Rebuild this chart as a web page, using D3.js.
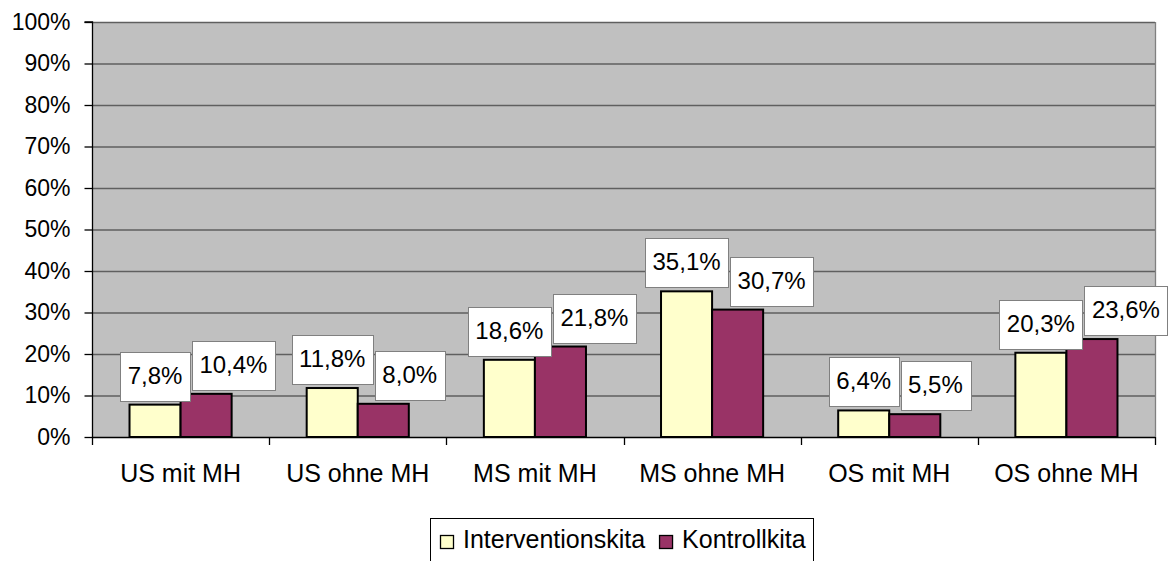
<!DOCTYPE html>
<html>
<head>
<meta charset="utf-8">
<script src="https://cdn.jsdelivr.net/npm/d3@7"></script>
<style>
  body { margin: 0; background: #fff; }
  text { font-family: "Liberation Sans", Arial, sans-serif; fill: #000; }
</style>
</head>
<body>
<svg id="chart" width="1173" height="561"></svg>
<script>
var categories = ['US mit MH', 'US ohne MH', 'MS mit MH', 'MS ohne MH', 'OS mit MH', 'OS ohne MH'];
var seriesNames = ['Interventionskita', 'Kontrollkita'];
var intervention = [7.8, 11.8, 18.6, 35.1, 6.4, 20.3];
var kontroll = [10.4, 8.0, 21.8, 30.7, 5.5, 23.6];
var yTicks = [0, 10, 20, 30, 40, 50, 60, 70, 80, 90, 100];
var colors = ['#FFFFCC', '#993366'];

var svg = d3.select('#chart');
var plot = { left: 92, right: 1155, top: 22, bottom: 437 };

var de = d3.formatLocale({ decimal: ',', thousands: '.', grouping: [3], currency: ['', ' €'] });
var fmt = de.format('.1f');

var x0 = d3.scaleBand().domain(categories).range([plot.left, plot.right]).padding(0);
var x1 = d3.scaleBand().domain(seriesNames).range([0, x0.bandwidth()])
  .paddingInner(0).paddingOuter(0.735);
var y = d3.scaleLinear().domain([0, 100]).range([plot.bottom, plot.top]);

// plot background
svg.append('rect')
  .attr('x', plot.left).attr('y', plot.top)
  .attr('width', plot.right - plot.left).attr('height', plot.bottom - plot.top)
  .attr('fill', '#C0C0C0');

// gridlines
svg.append('g').selectAll('line')
  .data(yTicks.filter(function(t) { return t > 0; }))
  .enter().append('line')
  .attr('x1', plot.left).attr('x2', plot.right)
  .attr('y1', function(d) { return y(d) + 0.5; })
  .attr('y2', function(d) { return y(d) + 0.5; })
  .attr('stroke', '#5f5f5f').attr('stroke-width', 1.3);

// right border
svg.append('line')
  .attr('x1', plot.right + 0.5).attr('x2', plot.right + 0.5)
  .attr('y1', plot.top).attr('y2', plot.bottom)
  .attr('stroke', '#808080').attr('stroke-width', 1.3);

// y axis
var yAxis = d3.axisLeft(y).tickValues(yTicks)
  .tickFormat(function(d) { return d + '%'; })
  .tickSize(8).tickPadding(14);
var gy = svg.append('g').attr('transform', 'translate(' + (plot.left + 0.5) + ',0)').call(yAxis);
gy.select('.domain').attr('stroke', '#000').attr('stroke-width', 1.3).attr('d', 'M-8,' + plot.top + 'H0V' + plot.bottom);
gy.selectAll('.tick line').attr('stroke', '#000').attr('stroke-width', 1.3);
gy.selectAll('.tick text').attr('font-size', '23px').attr('font-family', '"Liberation Sans", Arial, sans-serif').attr('fill', '#000');

// x axis: boundary ticks
var bounds = categories.map(function(c) { return x0(c); }).concat([plot.right]);
svg.append('line')
  .attr('x1', plot.left).attr('x2', plot.right)
  .attr('y1', plot.bottom + 0.5).attr('y2', plot.bottom + 0.5)
  .attr('stroke', '#000').attr('stroke-width', 1.3);
svg.append('g').selectAll('line').data(bounds).enter().append('line')
  .attr('x1', function(d) { return Math.round(d) + 0.5; })
  .attr('x2', function(d) { return Math.round(d) + 0.5; })
  .attr('y1', plot.bottom).attr('y2', plot.bottom + 8)
  .attr('stroke', '#000').attr('stroke-width', 1.3);

svg.append('g').selectAll('text').data(categories).enter().append('text')
  .attr('x', function(d) { return x0(d) + x0.bandwidth() / 2; })
  .attr('y', 482)
  .attr('text-anchor', 'middle')
  .attr('font-size', '25px')
  .text(function(d) { return d; });

// bars
var rows = categories.map(function(c, i) {
  return { cat: c, values: [intervention[i], kontroll[i]] };
});

var groups = svg.append('g').selectAll('g').data(rows).enter().append('g')
  .attr('transform', function(d) { return 'translate(' + x0(d.cat) + ',0)'; });

groups.selectAll('rect').data(function(d) {
  return d.values.map(function(v, k) { return { s: seriesNames[k], v: v, k: k }; });
}).enter().append('rect')
  .attr('x', function(d) { return x1(d.s); })
  .attr('y', function(d) { return y(d.v); })
  .attr('width', x1.bandwidth())
  .attr('height', function(d) { return plot.bottom - y(d.v); })
  .attr('fill', function(d) { return colors[d.k]; })
  .attr('stroke', '#000').attr('stroke-width', 2);

// data labels: white boxes above bars, the second one pushed right if they collide
var labelLayer = svg.append('g');
rows.forEach(function(row) {
  var prevRight = -Infinity;
  row.values.forEach(function(v, k) {
    var g = labelLayer.append('g');
    var rect = g.append('rect');
    var t = g.append('text')
      .attr('font-size', '24px')
      .attr('text-anchor', 'middle')
      .text(fmt(v) + '%');
    var w = t.node().getComputedTextLength() + 15;
    var h = 49;
    var cx = x0(row.cat) + x1(seriesNames[k]) + x1.bandwidth() / 2;
    var left = cx - w / 2;
    if (left < prevRight + 2) left = prevRight + 2;
    var bottom = y(v) - 4;
    rect.attr('x', Math.round(left) + 0.5).attr('y', Math.round(bottom - h) + 0.5)
      .attr('width', Math.round(w)).attr('height', h)
      .attr('fill', '#fff').attr('stroke', '#808080').attr('stroke-width', 1);
    t.attr('x', left + w / 2).attr('y', bottom - 17);
    prevRight = left + w;
  });
});

// legend
var legend = svg.append('g');
legend.append('rect')
  .attr('x', 430.5).attr('y', 518.5).attr('width', 383).attr('height', 60)
  .attr('fill', '#fff').attr('stroke', '#000').attr('stroke-width', 1);
var lx = 440;
seriesNames.forEach(function(name, k) {
  legend.append('rect')
    .attr('x', lx + 0.5).attr('y', 535.5).attr('width', 13).attr('height', 13)
    .attr('fill', colors[k]).attr('stroke', '#000').attr('stroke-width', 1.3);
  var t = legend.append('text')
    .attr('x', lx + 23).attr('y', 548)
    .attr('font-size', '25px')
    .text(name);
  lx = lx + 23 + t.node().getComputedTextLength() + 14;
});
</script>
</body>
</html>
